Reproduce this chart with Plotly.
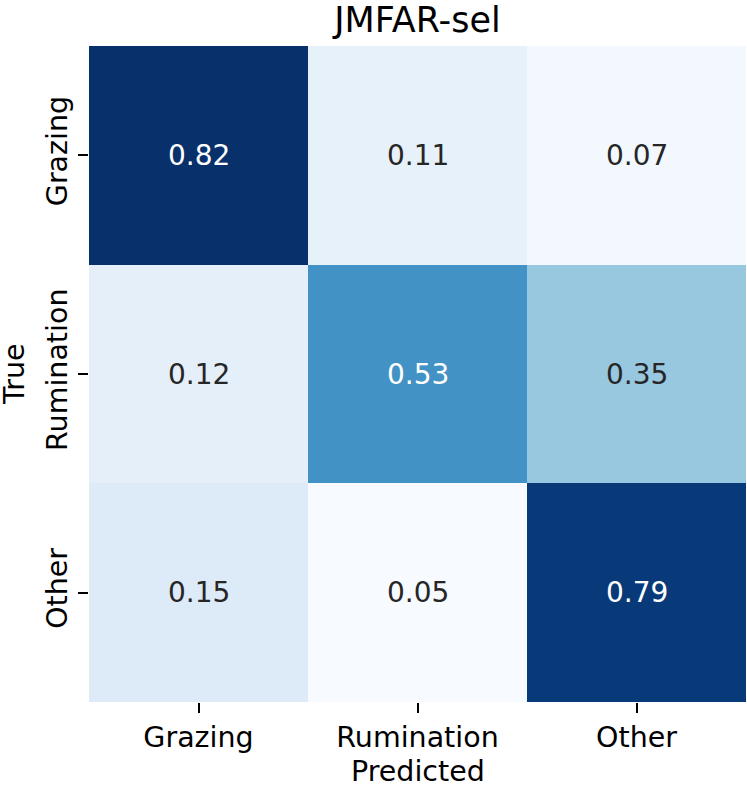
import plotly.graph_objects as go

pred_labels = ["Grazing", "Rumination", "Other"]
true_labels = ["Grazing", "Rumination", "Other"]
values = [
    [0.82, 0.11, 0.07],
    [0.12, 0.53, 0.35],
    [0.15, 0.05, 0.79],
]
title_text = "JMFAR-sel"

blues = ["#f7fbff", "#deebf7", "#c6dbef", "#9ecae1", "#6baed6",
         "#4292c6", "#2171b5", "#08519c", "#08306b"]
colorscale = [[i / (len(blues) - 1), c] for i, c in enumerate(blues)]

flat = [v for row in values for v in row]
zmin, zmax = min(flat), max(flat)

fig = go.Figure(go.Heatmap(
    z=values, x=pred_labels, y=true_labels,
    colorscale=colorscale, zmin=zmin, zmax=zmax,
    showscale=False, xgap=0, ygap=0, hoverinfo="skip",
))

FONT = "DejaVu Sans"
FS = 28.5
annotations = []
for i, t in enumerate(true_labels):
    for j, p in enumerate(pred_labels):
        v = values[i][j]
        norm = (v - zmin) / (zmax - zmin)
        annotations.append(dict(
            x=p, y=t, xref="x", yref="y", text=f"{v:.2f}", showarrow=False,
            font=dict(family=FONT, size=28, color="white" if norm > 0.5 else "#262626"),
        ))

annotations.append(dict(text="Predicted", xref="paper", yref="paper", x=0.5, y=-0.1067,
                        xanchor="center", yanchor="middle", showarrow=False,
                        font=dict(family=FONT, size=FS, color="black")))
annotations.append(dict(text="True", xref="paper", yref="paper", x=-0.1142, y=0.5,
                        xanchor="center", yanchor="middle", showarrow=False, textangle=-90,
                        font=dict(family=FONT, size=FS, color="black")))

W, H = 747, 785
fig.update_layout(
    width=W, height=H,
    margin=dict(l=89, r=1, t=46, b=83, autoexpand=False),
    paper_bgcolor="white", plot_bgcolor="white",
    title=dict(text=title_text, x=0.5, xref="paper", y=1 - 20 / H, yref="container",
               xanchor="center", yanchor="middle",
               font=dict(family=FONT, size=35, color="black")),
    annotations=annotations,
    font=dict(family=FONT, color="black"),
)
fig.update_xaxes(showgrid=False, zeroline=False, showline=False, ticks="outside",
                 ticklen=10, tickwidth=1.7, tickcolor="black", automargin=False,
                 tickfont=dict(family=FONT, size=FS, color="black"))
fig.update_yaxes(showgrid=False, zeroline=False, showline=False, ticks="outside",
                 ticklen=10, tickwidth=1.7, tickcolor="black", autorange="reversed",
                 tickangle=-90, automargin=False,
                 tickfont=dict(family=FONT, size=FS, color="black"))

fig.write_html("out.html", config={"displayModeBar": False},
               post_script="document.body.style.margin='0';document.body.style.overflow='hidden';")
